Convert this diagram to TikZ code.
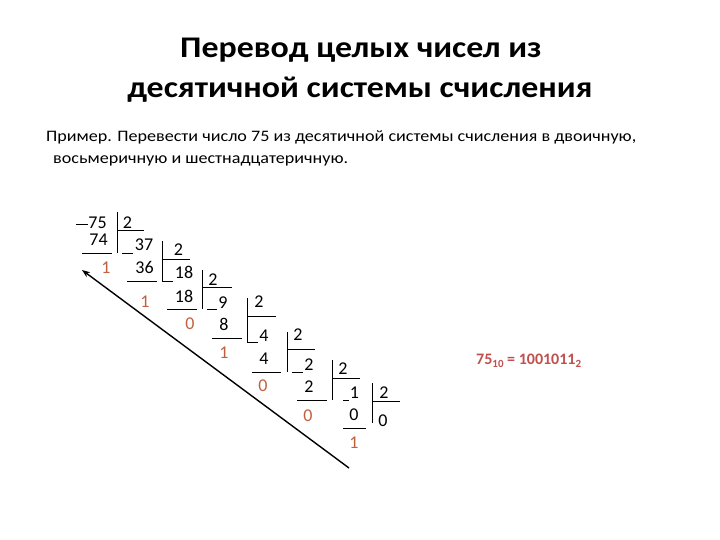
\documentclass[tikz,border=0pt]{standalone}
\usepackage{fontspec}
\setmainfont{Carlito}
\usetikzlibrary{arrows.meta}
\definecolor{rem}{HTML}{C0603F}
\definecolor{res}{HTML}{C0504D}
\begin{document}
\begin{tikzpicture}[x=1pt,y=-1pt,
  num/.style={inner sep=0pt,anchor=base,font=\fontsize{18}{20}\selectfont},
  remd/.style={num,text=rem},
  ttl/.style={inner sep=0pt,anchor=base,font=\fontsize{30}{32}\selectfont\bfseries},
  sub/.style={inner sep=0pt,anchor=base west,font=\fontsize{16}{18}\selectfont},
  ln/.style={line width=0.8pt}]
\useasboundingbox[fill=white] (0,0) rectangle (720,540);
% title
\node[ttl] (t1) at (361,58) {\scalebox{1.13}[1]{Перевод целых чисел из}};
\node[ttl] (t2) at (360,98) {\scalebox{1.13}[1]{десятичной системы счисления}};
\node[sub] (s1) at (46,142) {\scalebox{1.13}[1]{Пример. Перевести число 75 из десятичной системы счисления в двоичную,}};
\node[sub] (s2) at (53,164) {\scalebox{1.13}[1]{восьмеричную и шестнадцатеричную.}};
% numbers
\node[num] (n75) at (97.5,228.5) {75};
\node[num] (n74) at (98.5,245.5) {74};
\node[num] (n37) at (144,250.5) {37};
\node[num] (n36) at (144.5,273.5) {36};
\node[num] (n18a) at (184,278.5) {18};
\node[num] (n18b) at (184,302.5) {18};
\node[num] (n9) at (223,308.5) {9};
\node[num] (n8) at (224,330.5) {8};
\node[num] (n4a) at (264,341.5) {4};
\node[num] (n4b) at (264,364.5) {4};
\node[num] (n2a) at (309,370.5) {2};
\node[num] (n2b) at (309,392.5) {2};
\node[num] (n1) at (354.5,398.5) {1};
\node[num] (n0a) at (354,420.5) {0};
\node[num] (n0b) at (383,426.5) {0};
% divisors
\node[num] (d1) at (127.5,228.5) {2};
\node[num] (d2) at (178.5,255.5) {2};
\node[num] (d3) at (213,285.5) {2};
\node[num] (d4) at (259,307.5) {2};
\node[num] (d5) at (298,340.5) {2};
\node[num] (d6) at (343,374.5) {2};
\node[num] (d7) at (384,398.5) {2};
% remainders
\node[remd] (r1) at (106,273.5) {1};
\node[remd] (r2) at (145,307.5) {1};
\node[remd] (r3) at (190,329.5) {0};
\node[remd] (r4) at (224,358.5) {1};
\node[remd] (r5) at (263,391.5) {0};
\node[remd] (r6) at (308,421.5) {0};
\node[remd] (r7) at (354,448.5) {1};
% minus signs
\draw[ln] (76,224) -- (88,224);
\draw[ln] (122,253) -- (133,253);
\draw[ln] (162,281) -- (173,281);
\draw[ln] (207,309) -- (217,309);
\draw[ln] (247,342) -- (258,342);
\draw[ln] (292,372) -- (303,372);
\draw[ln] (343,400) -- (349,400);
% vertical bars
\draw[ln] (117,212) -- (117,253);
\draw[ln] (162,241) -- (162,281);
\draw[ln] (202,270) -- (202,309);
\draw[ln] (247,298) -- (247,342);
\draw[ln] (287,332) -- (287,372);
\draw[ln] (332,360) -- (332,400);
\draw[ln] (372,383) -- (372,423);
% lines under divisors
\draw[ln] (117,230) -- (144,230);
\draw[ln] (162,259) -- (190,259);
\draw[ln] (202,287) -- (232,287);
\draw[ln] (247,316) -- (276,316);
\draw[ln] (287,349) -- (315,349);
\draw[ln] (332,378) -- (360,378);
\draw[ln] (372,401) -- (400,401);
% underlines
\draw[ln] (82,253) -- (112,253);
\draw[ln] (127,281) -- (157,281);
\draw[ln] (167,309) -- (197,309);
\draw[ln] (212,338) -- (242,338);
\draw[ln] (252,372) -- (281,372);
\draw[ln] (297,400) -- (327,400);
\draw[ln] (343,428) -- (366,428);
% arrow
\coordinate (a0) at (349,468);
\coordinate (a1) at (82,270);
\draw[line width=1.4pt,-{Stealth[length=8pt,width=6pt]}] (a0) -- (a1);
% result
\node[inner sep=0pt,anchor=base west,text=res,font=\fontsize{16}{18}\selectfont\bfseries] (res) at (476,364) {75\raisebox{-3pt}{\fontsize{11}{12}\selectfont 10} = 1001011\raisebox{-3pt}{\fontsize{11}{12}\selectfont 2}};
\end{tikzpicture}
\end{document}
